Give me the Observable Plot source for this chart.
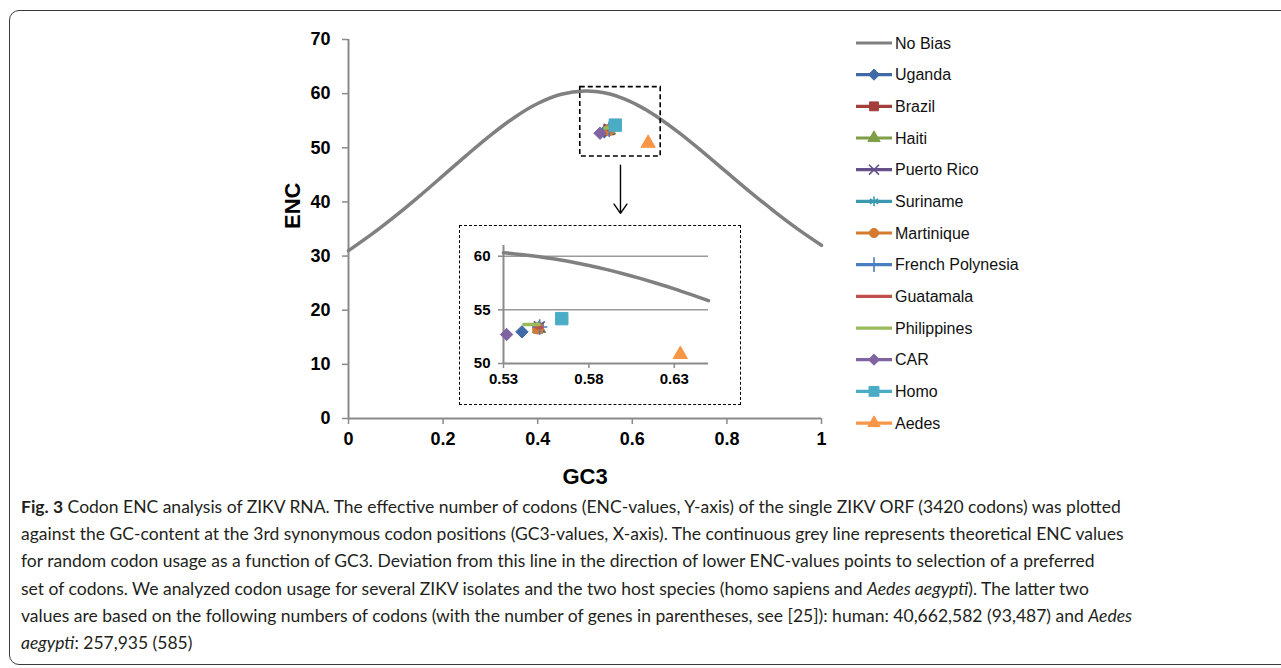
<!DOCTYPE html>
<html><head><meta charset="utf-8">
<script src="https://cdn.jsdelivr.net/npm/d3@7"></script>
<script src="https://cdn.jsdelivr.net/npm/@observablehq/plot@0.6"></script>
<style>
html,body{margin:0;padding:0;background:#fff;}
body{width:1281px;height:668px;position:relative;overflow:hidden;font-family:"Liberation Sans",Arial,sans-serif;}
#frame{position:absolute;left:9px;top:10px;width:1400px;height:655px;border:1.4px solid #3a3a3a;border-radius:10px;box-sizing:border-box;}
#main{position:absolute;left:0;top:0;}
#inset{position:absolute;left:459px;top:225px;}
#inset svg{border:1.4px dashed #000;display:block;background:#fff;}
#legend{position:absolute;left:0;top:0;}
#caption{position:absolute;left:21px;top:493px;font-family:Lato,"Open Sans",sans-serif;color:#231f20;line-height:27.2px;font-size:17px;white-space:nowrap;}
#caption i{font-style:italic;}
</style>
</head><body>
<div id="frame"></div>
<div id="main"></div>
<div id="inset"></div>
<svg id="legend" width="1281" height="460"></svg>
<div id="caption">
<div class="ln"><b>Fig. 3</b> Codon ENC analysis of ZIKV RNA. The effective number of codons (ENC-values, Y-axis) of the single ZIKV ORF (3420 codons) was plotted</div>
<div class="ln">against the GC-content at the 3rd synonymous codon positions (GC3-values, X-axis). The continuous grey line represents theoretical ENC values</div>
<div class="ln">for random codon usage as a function of GC3. Deviation from this line in the direction of lower ENC-values points to selection of a preferred</div>
<div class="ln">set of codons. We analyzed codon usage for several ZIKV isolates and the two host species (homo sapiens and <i>Aedes aegypti</i>). The latter two</div>
<div class="ln">values are based on the following numbers of codons (with the number of genes in parentheses, see [25]): human: 40,662,582 (93,487) and <i>Aedes</i></div>
<div class="ln"><i>aegypti</i>: 257,935 (585)</div>
</div>
<script>
// ---- data ----
const curveGC3 = [0,0.05,0.1,0.15,0.2,0.25,0.3,0.35,0.4,0.45,0.5,0.53,0.54,0.55,0.56,0.57,0.58,0.59,0.6,0.61,0.62,0.63,0.64,0.65,0.7,0.75,0.8,0.85,0.9,0.95,1];
const curveENC = [31.0,34.09,37.47,41.08,44.85,48.65,52.3,55.56,58.17,59.88,60.5,60.32,60.17,59.98,59.74,59.46,59.13,58.77,58.37,57.93,57.46,56.96,56.42,55.86,52.7,49.15,45.45,41.78,38.27,34.99,32.0];

const seriesNames = ["Uganda","Brazil","Haiti","Puerto Rico","Suriname","Martinique","French Polynesia","Guatamala","Philippines","CAR","Homo","Aedes"];
const seriesGC3 = [[0.5408],[0.5503],[0.5508],[0.5510],[0.5507],[0.5502],[0.5512],[0.5493,0.5522],[0.5419,0.5508],[0.5318],[0.5641],[0.6335]];
const seriesENC = [[52.95],[53.30],[53.25],[53.42],[53.38],[53.25],[53.40],[53.35,53.35],[53.64,53.64],[52.70],[54.18],[50.85]];

const mainXTicks = [0,0.2,0.4,0.6,0.8,1];
const mainYTicks = [0,10,20,30,40,50,60,70];
const insetXTicks = [0.53,0.58,0.63];
const insetYTicks = [50,55,60];
const zoomBox = [{x1:0.49,x2:0.66,y1:48.4,y2:61.2}];
const zoomArrow = [{x1:0.575,y1:46.8,x2:0.575,y2:37.9}];

// ---- styles ----
const noBiasColor = "#808080";
const seriesColors = ["#3F6AA6","#A33E3B","#7E9E47","#66508A","#3A98B0","#D57A2E","#4A7EC0","#C0504D","#9BBB59","#8064A2","#4BACC6","#F79646"];
const seriesSymbols = ["diamond2","square","triangle","times","asterisk","circle","plus",null,null,"diamond2","square","triangle"];
const seriesR = [5.6,5.6,5,5,5,5.4,5,0,0,5.6,7,5.3];
const axisGray = "#8a8a8a";

const noBias = curveGC3.map((x,i)=>({x, y:curveENC[i]}));

function seriesMarks(){
  return seriesNames.flatMap((name,i)=>{
    const data = seriesGC3[i].map((x,j)=>({x, y:seriesENC[i][j]}));
    const marks = [];
    if (data.length > 1) marks.push(Plot.line(data,{x:"x",y:"y",stroke:seriesColors[i],strokeWidth:3.5}));
    const s = seriesSymbols[i];
    if (s){
      const open = (s==="times"||s==="asterisk"||s==="plus");
      marks.push(Plot.dot(data,{x:"x",y:"y",symbol:s,r:seriesR[i],
        fill: open ? "none" : seriesColors[i], stroke:seriesColors[i], strokeWidth: open?1.6:1}));
    }
    return marks;
  });
}

const fontFam = "'Liberation Sans', Arial, sans-serif";

const main = Plot.plot({
  width: 860, height: 500,
  marginLeft: 348, marginRight: 39, marginTop: 39, marginBottom: 82,
  x: {domain:[0,1]},
  y: {domain:[0,70]},
  style: {fontFamily: fontFam, background:"transparent", color:"#000", overflow:"visible"},
  marks: [
    Plot.ruleY([0], {stroke:axisGray, strokeWidth:2}),
    Plot.ruleX([0], {stroke:axisGray, strokeWidth:2}),
    Plot.axisX({ticks: mainXTicks, tickFormat: d=>String(d), tickSize:6, tickPadding:8, stroke:axisGray, strokeWidth:1.5, fill:"#000", fontSize:18, fontWeight:"bold", label:null}),
    Plot.axisY({ticks: mainYTicks, tickFormat: d=>String(d), tickSize:6, tickPadding:12, stroke:axisGray, strokeWidth:1.5, fill:"#000", fontSize:18, fontWeight:"bold", label:null}),
    Plot.text(["GC3"], {frameAnchor:"bottom", lineAnchor:"middle", dy:58, fontSize:22, fontWeight:"bold", fill:"#000"}),
    Plot.text(["ENC"], {frameAnchor:"left", lineAnchor:"middle", dx:-56, rotate:-90, fontSize:22, fontWeight:"bold", fill:"#000"}),
    Plot.line(noBias, {x:"x", y:"y", stroke:noBiasColor, strokeWidth:3.5, curve:"catmull-rom"}),
    ...seriesMarks(),
    Plot.rect(zoomBox, {x1:"x1",x2:"x2",y1:"y1",y2:"y2", fill:"none", stroke:"#000", strokeWidth:1.6, strokeDasharray:"5,3"}),
    Plot.arrow(zoomArrow, {x1:"x1",y1:"y1",x2:"x2",y2:"y2", stroke:"#000", strokeWidth:1.4, headLength:12, headAngle:70})
  ]
});
document.getElementById("main").appendChild(main);

const insetCurve = noBias.filter(d => d.x >= 0.53 && d.x <= 0.65);
const inset = Plot.plot({
  width: 280, height: 178,
  marginLeft: 43, marginRight: 32, marginTop: 19, marginBottom: 41,
  x: {domain:[0.53,0.65]},
  y: {domain:[50,61]},
  style: {fontFamily: fontFam, background:"#fff", color:"#000", overflow:"visible"},
  marks: [
    Plot.ruleY([55,60], {stroke:"#9a9a9a", strokeWidth:1.5}),
    Plot.ruleY([50], {stroke:axisGray, strokeWidth:2}),
    Plot.ruleX([0.53], {stroke:axisGray, strokeWidth:2}),
    Plot.axisX({ticks: insetXTicks, tickFormat: d=>d.toFixed(2), tickSize:5, tickPadding:5, stroke:axisGray, strokeWidth:1.5, fill:"#000", fontSize:15, fontWeight:"bold", label:null}),
    Plot.axisY({ticks: insetYTicks, tickFormat: d=>String(d), tickSize:5, tickPadding:8, stroke:axisGray, strokeWidth:1.5, fill:"#000", fontSize:15, fontWeight:"bold", label:null}),
    Plot.line(insetCurve, {x:"x", y:"y", stroke:noBiasColor, strokeWidth:3.5, curve:"catmull-rom"}),
    ...seriesMarks()
  ]
});
document.getElementById("inset").appendChild(inset);

// ---- legend ----
const symMap = {diamond2:d3.symbolDiamond2, square:d3.symbolSquare, triangle:d3.symbolTriangle, times:d3.symbolTimes, asterisk:d3.symbolAsterisk, circle:d3.symbolCircle, plus:d3.symbolPlus};
const legend = d3.select("#legend");
const legNames = ["No Bias", ...seriesNames];
const legColors = [noBiasColor, ...seriesColors];
const legSyms = [null, ...seriesSymbols];
const legR = [0, 5, 5, 4.6, 4.6, 4.6, 4.6, 4.8, 0, 0, 5, 5.6, 4.6];
legNames.forEach((name,i)=>{
  const cy = 43 + i*31.67;
  const g = legend.append("g");
  g.append("line").attr("x1",856).attr("x2",892).attr("y1",cy).attr("y2",cy)
    .attr("stroke",legColors[i]).attr("stroke-width", 3.2);
  const s = legSyms[i];
  if (s){
    const open = (s==="times"||s==="asterisk"||s==="plus");
    const size = Math.PI*legR[i]*legR[i];
    g.append("path").attr("d", d3.symbol(symMap[s], size)()).attr("transform",`translate(874,${cy})`)
      .attr("fill", open?"none":legColors[i]).attr("stroke",legColors[i]).attr("stroke-width", open?1.6:1);
  }
  g.append("text").attr("x",895).attr("y",cy).attr("dy","0.35em")
    .attr("font-family",fontFam).attr("font-size",16).attr("fill","#111").text(name);
});

// fit caption width: first line should span ~1112px
const first = document.querySelector("#caption .ln");
const cap = document.getElementById("caption");
const w = first.getBoundingClientRect().width;
const target = 1112;
cap.style.fontSize = (17*target/w).toFixed(2) + "px";
</script>
</body></html>
